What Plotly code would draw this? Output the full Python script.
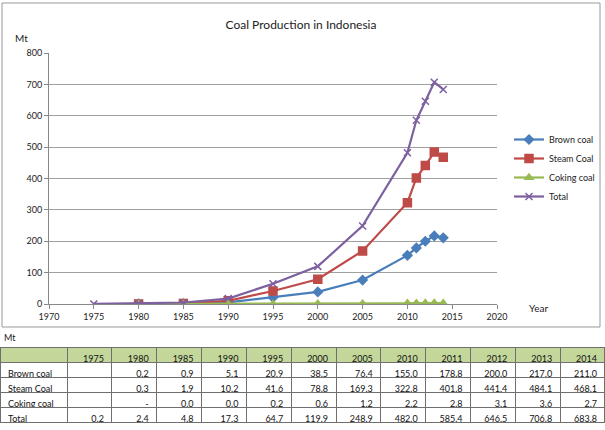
import plotly.graph_objects as go

years = [1975, 1980, 1985, 1990, 1995, 2000, 2005, 2010, 2011, 2012, 2013, 2014]
brown_coal = [None, 0.2, 0.9, 5.1, 20.9, 38.5, 76.4, 155.0, 178.8, 200.0, 217.0, 211.0]
steam_coal = [None, 0.3, 1.9, 10.2, 41.6, 78.8, 169.3, 322.8, 401.8, 441.4, 484.1, 468.1]
coking_coal = [None, "-", 0.0, 0.0, 0.2, 0.6, 1.2, 2.2, 2.8, 3.1, 3.6, 2.7]
total = [0.2, 2.4, 4.8, 17.3, 64.7, 119.9, 248.9, 482.0, 585.4, 646.5, 706.8, 683.8]

series_names = ["Brown coal", "Steam Coal", "Coking coal", "Total"]
series_vals = [brown_coal, steam_coal, coking_coal, total]
colors = ["#4a7ebb", "#be4b48", "#98b954", "#7d60a0"]
symbols = ["diamond", "square", "triangle-up", "x-thin"]
msizes = [7, 8, 7, 7]

W, H = 605, 430
def px(x):
    return x / W
def py(y):
    return 1 - y / H

FONT = "Lato, 'Open Sans', sans-serif"

fig = go.Figure()

def num(v):
    if v is None:
        return None
    if v == "-":
        return 0.0
    return v

for name, vals, c, s, ms in zip(series_names, series_vals, colors, symbols, msizes):
    fig.add_trace(go.Scatter(
        x=years, y=[num(v) for v in vals], name=name, mode="lines+markers",
        line=dict(color=c, width=2.2),
        marker=dict(symbol=s, size=ms, color=c, line=dict(color=c, width=1.5)),
        connectgaps=False, xaxis="x", yaxis="y",
    ))

def fmt(v):
    if v is None:
        return ""
    if v == "-":
        return "-"
    return f"{v:.1f}"

header_vals = [""] + [str(y) for y in years]
row_labels = [n.replace(" ", "\u00a0") for n in series_names]
cell_cols = [row_labels] + [[fmt(sv[i]) for sv in series_vals] for i in range(len(years))]

fig.add_trace(go.Table(
    domain=dict(x=[0, 1], y=[0, py(347)]),
    columnwidth=[67] + [44.8] * len(years),
    header=dict(values=header_vals, fill_color="#c4d79b", line=dict(color="#6f6f6f", width=1),
                align=["left"] + ["right"] * len(years), height=15,
                font=dict(family=FONT, size=9, color="#111")),
    cells=dict(values=cell_cols, fill_color="white", line=dict(color="#6f6f6f", width=1),
               align=["left"] + ["right"] * len(years), height=15,
               font=dict(family=FONT, size=9, color="#111")),
))

fig.update_layout(
    width=W, height=H, margin=dict(l=0, r=0, t=0, b=0, autoexpand=False),
    paper_bgcolor="white", plot_bgcolor="white",
    font=dict(family=FONT, size=9, color="#222"),
    title=dict(text="Coal Production in Indonesia", x=px(301), xanchor="center", y=py(25), yanchor="middle",
               font=dict(family=FONT, size=12, color="#222")),
    xaxis=dict(domain=[px(49), px(497)], range=[1970, 2020], tickmode="array",
               tickvals=list(range(1970, 2021, 5)), showgrid=False, zeroline=False,
               showline=True, linecolor="#888", ticks="outside", ticklen=4, tickcolor="#888",
               tickfont=dict(size=9, color="#222"), fixedrange=True, automargin=False),
    yaxis=dict(domain=[py(304), py(53)], range=[0, 800], dtick=100, showgrid=True,
               gridcolor="#a0a0a0", gridwidth=1, zeroline=False, showline=True, linecolor="#888",
               ticks="outside", ticklen=4, tickcolor="#888", tickfont=dict(size=9, color="#222"),
               fixedrange=True, automargin=False),
    legend=dict(x=px(509), y=py(125), xanchor="left", yanchor="top", font=dict(size=9, color="#222"),
                bgcolor="rgba(0,0,0,0)", tracegroupgap=0, itemwidth=30),
    showlegend=True,
    shapes=[dict(type="rect", xref="paper", yref="paper", x0=px(2), x1=px(600), y0=py(327), y1=py(3),
                 line=dict(color="#999", width=1), fillcolor="rgba(0,0,0,0)", layer="below")],
    annotations=[
        dict(text="Mt", x=px(13), y=py(38), xref="paper", yref="paper", showarrow=False,
             xanchor="left", yanchor="middle", font=dict(size=10, color="#222")),
        dict(text="Year", x=px(527), y=py(308), xref="paper", yref="paper", showarrow=False,
             xanchor="left", yanchor="middle", font=dict(size=10, color="#222")),
        dict(text="Mt", x=px(2), y=py(337), xref="paper", yref="paper", showarrow=False,
             xanchor="left", yanchor="middle", font=dict(size=9, color="#222")),
    ],
)

fig.write_html("out.html")
